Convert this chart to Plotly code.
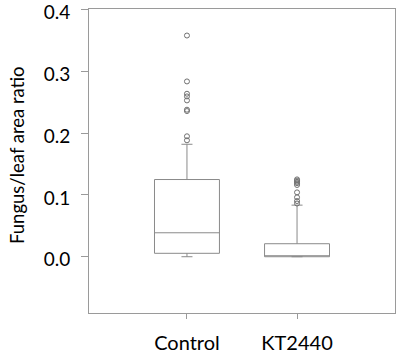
import plotly.graph_objects as go

categories = ["Control", "KT2440"]
q1 = [0.0055, 0.0]
median = [0.0387, 0.0005]
q3 = [0.1248, 0.021]
lowerfence = [0.0, 0.0]
upperfence = [0.1818, 0.0834]

control_outliers = [0.3576, 0.2834, 0.2635, 0.2592, 0.2527, 0.2377, 0.2355, 0.1947, 0.1882]
kt_outliers = [0.086, 0.090, 0.096, 0.104, 0.116, 0.119, 0.121, 0.123, 0.125]

y_ticks = [0.0, 0.1, 0.2, 0.3, 0.4]
y_ticklabels = ["0.0", "0.1", "0.2", "0.3", "0.4"]
y_title = "Fungus/leaf area ratio"

line_col = "#8a8a8a"
axis_col = "#9a9a9a"
font_family = "Lato, Liberation Sans, sans-serif"

fig = go.Figure()
fig.add_trace(go.Box(
    x=categories, q1=q1, median=median, q3=q3,
    lowerfence=lowerfence, upperfence=upperfence,
    boxpoints=False, width=0.59, whiskerwidth=0.17,
    fillcolor="rgba(255,255,255,0)",
    line=dict(color=line_col, width=1),
    showlegend=False, hoverinfo="skip",
))
fig.add_trace(go.Scatter(
    x=[categories[0]] * len(control_outliers) + [categories[1]] * len(kt_outliers),
    y=control_outliers + kt_outliers,
    mode="markers",
    marker=dict(symbol="circle-open", size=5, color="#707070", line=dict(width=1, color="#707070")),
    showlegend=False, hoverinfo="skip",
))

fig.add_annotation(
    text=y_title, textangle=-90,
    xref="paper", yref="paper", x=-0.235, y=0.52,
    xanchor="center", yanchor="middle", showarrow=False,
    font=dict(size=18.5, family=font_family, color="black"),
)

fig.update_layout(
    width=397, height=354,
    margin=dict(l=89, r=2, t=9, b=41),
    paper_bgcolor="white", plot_bgcolor="white",
    font=dict(family=font_family, color="black", size=19),
    xaxis=dict(
        type="category", range=[-0.89, 1.89], automargin=False,
        showline=True, linecolor=axis_col, linewidth=1, mirror=True,
        ticks="outside", ticklen=5, tickcolor=axis_col, tickwidth=1,
        showgrid=False, zeroline=False,
        tickfont=dict(size=20, family=font_family),
        ticklabelstandoff=7,
    ),
    yaxis=dict(
        range=[-0.091, 0.4005], automargin=False,
        tickvals=y_ticks, ticktext=y_ticklabels,
        showline=True, linecolor=axis_col, linewidth=1, mirror=True,
        ticks="outside", ticklen=7, tickcolor=axis_col, tickwidth=1,
        showgrid=False, zeroline=False,
        tickfont=dict(size=19, family=font_family),
        ticklabelstandoff=7,
        ticklabelshift=3,
        ticklabeloverflow="allow",
    ),
)

fig.write_html("out.html", config={"displayModeBar": False},
               post_script="document.body.style.margin='0';")
